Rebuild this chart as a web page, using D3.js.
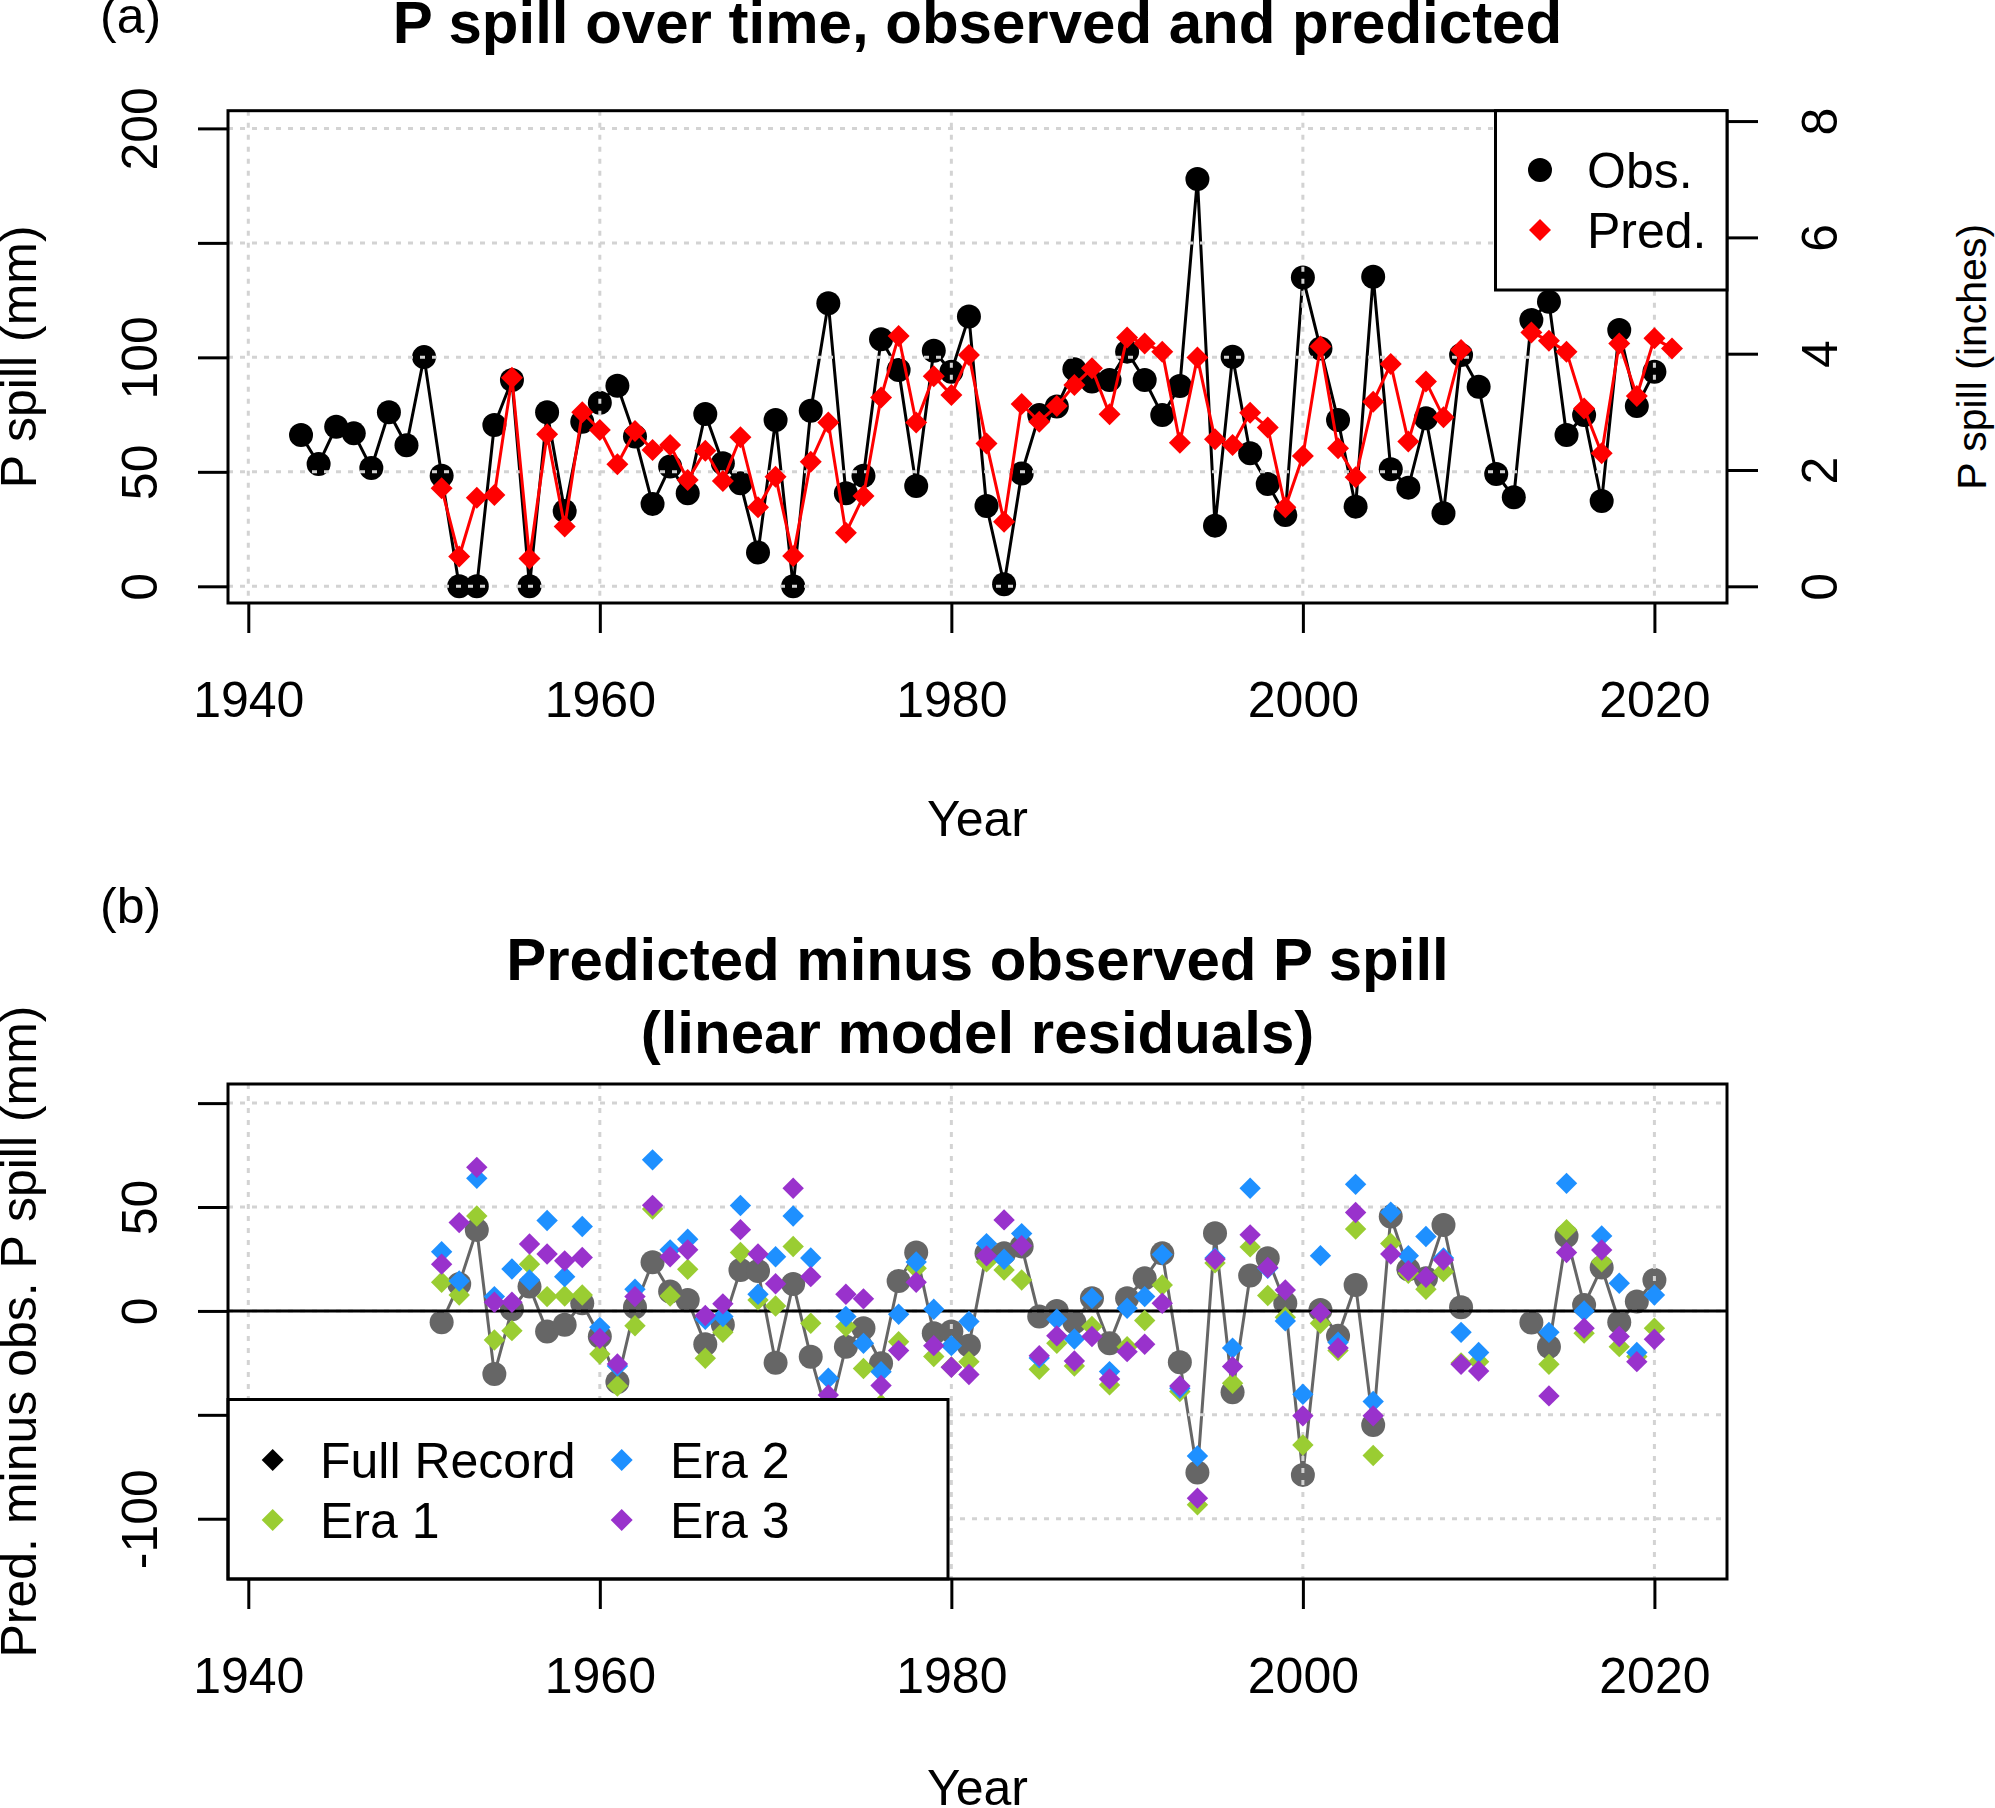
<!DOCTYPE html>
<html lang="en">
<head>
<meta charset="UTF-8">
<title>P spill over time, observed and predicted</title>
<script src="https://d3js.org/d3.v7.min.js"></script>
<style>
  body { margin: 0; background: #fff; }
  svg { display: block; font-family: "Liberation Sans", Arial, sans-serif; }
  .grid line { stroke: #d3d3d3; stroke-width: 3; stroke-dasharray: 5,7; }
  .axis text { font-family: "Liberation Sans", Arial, sans-serif; font-size: 50px; fill: #000; }
  .axis line { stroke: #000; stroke-width: 3; }
  .lbl { font-size: 50px; fill: #000; }
  .title { font-size: 60px; font-weight: bold; fill: #000; }
</style>
</head>
<body>
<div id="chart"></div>
<script>
// years 1943-2021
const years = [1943, 1944, 1945, 1946, 1947, 1948, 1949, 1950, 1951, 1952,
  1953, 1954, 1955, 1956, 1957, 1958, 1959, 1960, 1961, 1962,
  1963, 1964, 1965, 1966, 1967, 1968, 1969, 1970, 1971, 1972,
  1973, 1974, 1975, 1976, 1977, 1978, 1979, 1980, 1981, 1982,
  1983, 1984, 1985, 1986, 1987, 1988, 1989, 1990, 1991, 1992,
  1993, 1994, 1995, 1996, 1997, 1998, 1999, 2000, 2001, 2002,
  2003, 2004, 2005, 2006, 2007, 2008, 2009, 2010, 2011, 2012,
  2013, 2014, 2015, 2016, 2017, 2018, 2019, 2020, 2021];

// observed P spill (mm)
const obs = [66.1, 53.4, 69.7, 66.8, 51.7, 76.0, 61.6, 100.1, 48.3, 0,
  0, 70.5, 90.1, 0, 76.0, 32.9, 71.9, 80.2, 87.6, 65.4,
  36.0, 52.3, 40.6, 75.3, 53.7, 45.0, 14.8, 72.6, 0, 76.7,
  123.6, 40.6, 48.3, 107.9, 94.5, 43.8, 102.9, 93.7, 117.8, 35.1,
  0.9, 49.3, 74.8, 78.5, 94.8, 89.4, 90.1, 102.5, 90.1, 74.8,
  87.5, 177.9, 26.5, 100.3, 58.1, 44.7, 31.1, 134.9, 103.9, 72.6,
  34.8, 135.2, 51.1, 43.1, 73.4, 31.9, 101.0, 87.2, 49.1, 38.9,
  116.3, 124.3, 66.1, 74.8, 37.3, 111.9, 78.7, 93.7, null];

// predicted P spill (mm)
const pred = [null, null, null, null, null, null, null, null, 42.8, 13.0,
  38.7, 39.9, 91.1, 12.2, 66.4, 26.1, 76.0, 68.3, 53.3, 67.8,
  59.5, 61.7, 46.4, 59.2, 46.0, 65.1, 34.5, 47.9, 13.2, 54.4,
  71.5, 23.4, 39.4, 82.5, 109.3, 71.5, 91.8, 83.6, 101.0, 62.4,
  28.2, 79.6, 71.9, 78.7, 87.9, 95.2, 75.1, 108.7, 106.1, 102.5,
  62.7, 99.9, 64.2, 61.7, 75.8, 69.4, 34.5, 56.9, 104.7, 60.3,
  47.6, 80.6, 97.1, 63.2, 89.4, 73.8, 103.2, null, null, null,
  110.9, 107.3, 102.5, 77.7, 58.1, 106.1, 83.1, 108.3, 103.9];

// residual years 1951-2020
const resYears = years.slice(8, 78);

const resFull = [-5.5, 13.0, 39.0, -30.3, 0.8, 11.7, -9.9, -6.7, 3.7, -12.3,
  -34.2, 1.8, 23.4, 9.3, 5.3, -16.0, -6.7, 19.7, 19.2, -24.9,
  13.0, -22.0, -52.0, -17.2, -8.3, -25.2, 14.4, 28.1, -10.7, -9.9,
  -16.7, 27.7, 27.7, 31.0, -2.7, 0.0, -5.5, 6.1, -15.6, 6.1,
  15.7, 27.7, -24.7, -77.8, 37.4, -39.1, 17.0, 25.3, 3.7, -78.9,
  0.5, -12.0, 12.5, -54.9, 45.4, 20.0, 15.7, 41.4, 1.8, null,
  null, null, -5.6, -17.2, 36.1, 2.9, 20.9, -5.4, 4.5, 14.9];

const resEra1 = [13.8, 7.7, 45.7, -14.0, -9.5, 22.5, 6.9, 7.2, 7.7, -20.7,
  -36.1, -7.1, 49.0, 7.2, 20.0, -22.8, -10.3, 28.1, 5.3, 2.4,
  31.0, -5.9, -55.0, -7.5, -27.7, -45.0, -14.8, 20.5, -21.9, -27.0,
  -24.4, 23.6, 19.7, 14.9, -28.1, -15.6, -26.5, -7.5, -35.6, -17.2,
  -4.6, 12.5, -38.8, -93.3, 23.1, -34.8, 30.8, 7.4, -3.0, -64.5,
  -5.9, -19.1, 39.4, -69.6, 32.5, 18.1, 10.4, 18.9, -25.0, -24.4,
  null, null, null, -25.7, 39.1, -10.7, 23.7, -17.2, -21.9, -8.3];

const resEra2 = [28.5, 14.4, 63.8, 6.9, 20.2, 14.9, 43.5, 16.5, 40.6, -7.9,
  -26.5, 10.4, 72.7, 29.4, 34.5, -4.0, -2.7, 50.7, 8.0, 26.1,
  45.7, 25.5, -32.4, -2.7, -15.6, -29.3, -1.6, 23.6, 0.8, -16.7,
  -5.1, 32.4, 24.9, 37.2, -22.6, -4.0, -13.5, 6.1, -29.2, 1.3,
  6.9, 27.1, -37.2, -69.8, 25.5, -17.9, 59.0, 20.5, -4.8, -40.1,
  26.6, -15.1, 60.9, -43.6, 47.5, 26.6, 35.8, 25.5, -10.3, -20.0,
  null, null, null, -10.3, 61.4, 0.0, 36.1, 13.3, -20.0, 7.7];

const resEra3 = [22.5, 42.5, 69.1, 4.2, 4.2, 32.2, 27.4, 24.1, 25.7, -13.2,
  -25.5, 6.9, 50.8, 26.1, 29.4, -2.2, 3.4, 39.1, 27.4, 13.1,
  59.0, 16.5, -40.4, 8.0, 5.8, -35.9, -19.1, 13.8, -16.7, -27.1,
  -30.6, 26.5, 43.8, 31.4, -21.6, -12.0, -24.1, -12.3, -32.7, -19.6,
  -16.0, 3.7, -36.1, -90.1, 24.9, -26.8, 36.6, 20.9, 10.1, -50.5,
  -0.8, -17.8, 47.4, -50.5, 27.4, 19.4, 16.2, 24.5, -25.7, -28.9,
  null, null, null, -40.9, 28.1, -8.3, 29.3, -12.3, -24.4, -13.6];

const xTicks = [1940, 1960, 1980, 2000, 2020];
const topTicks = [0, 50, 100, 150, 200];
const topLabels = [0, 50, 100, 200];
const inchTicks = [0, 2, 4, 6, 8];
const botTicks = [-100, -50, 0, 50, 100];
const botLabels = [-100, 0, 50];

const eraColors = {era1: "#9acd32", era2: "#1e90ff", era3: "#9932cc"};

const W = 1995, H = 1808;
const L = 228, R = 1727;
const tTop = 110.7, tBot = 603;
const bTop = 1084, bBot = 1579;

const svg = d3.select("#chart").append("svg")
  .attr("width", W).attr("height", H);
svg.append("rect").attr("width", W).attr("height", H).attr("fill", "#fff");

const x = d3.scaleLinear().domain([1938.845, 2024.13]).range([L, R]);
const yTop = d3.scaleLinear().domain([-7.29, 207.73]).range([tBot, tTop]);
const yInch = d3.scaleLinear().domain([-7.29 / 25.4, 207.73 / 25.4]).range([tBot, tTop]);
const yBot = d3.scaleLinear().domain([-129.0, 109.2]).range([bBot, bTop]);

const topData = years.map((yr, i) => ({yr, o: obs[i], p: pred[i]}));
const resData = resYears.map((yr, i) => ({yr, f: resFull[i], e1: resEra1[i], e2: resEra2[i], e3: resEra3[i]}));

function diamond(half) {
  const s = half * Math.SQRT2;
  return d3.symbol().type(d3.symbolSquare).size(s * s)();
}

function grid(yScale, yTicks, top, bot) {
  const g = svg.append("g").attr("class", "grid");
  g.selectAll(".v").data(xTicks).join("line")
    .attr("x1", d => x(d)).attr("x2", d => x(d)).attr("y1", top).attr("y2", bot);
  g.selectAll(".h").data(yTicks).join("line")
    .attr("x1", L).attr("x2", R).attr("y1", d => yScale(d)).attr("y2", d => yScale(d));
}

function leftAxis(yScale, ticks, labels) {
  const a = svg.append("g").attr("class", "axis").attr("transform", `translate(${L},0)`)
    .call(d3.axisLeft(yScale).tickValues(ticks).tickSize(30).tickSizeOuter(0));
  a.select(".domain").remove();
  a.selectAll(".tick text")
    .text(d => labels.includes(d) ? String(d) : "")
    .attr("transform", "rotate(-90)").attr("x", 0).attr("y", -71)
    .attr("dy", null).attr("text-anchor", "middle");
}

function bottomAxis(yPos) {
  const a = svg.append("g").attr("class", "axis").attr("transform", `translate(0,${yPos})`)
    .call(d3.axisBottom(x).tickValues(xTicks).tickSize(30).tickSizeOuter(0).tickFormat(d3.format("d")));
  a.select(".domain").remove();
  a.selectAll(".tick text").attr("y", 114).attr("dy", null);
}

function box(top, bot) {
  svg.append("rect").attr("x", L).attr("y", top).attr("width", R - L).attr("height", bot - top)
    .attr("fill", "none").attr("stroke", "#000").attr("stroke-width", 3);
}

function rotLabel(text, cx, cy, size) {
  svg.append("text").attr("class", "lbl")
    .attr("transform", `translate(${cx},${cy}) rotate(-90)`)
    .style("font-size", size ? size + "px" : null)
    .attr("text-anchor", "middle").text(text);
}

// ---------- panel (a) ----------
const lineObs = d3.line().defined(d => d.o != null).x(d => x(d.yr)).y(d => yTop(d.o));
const linePred = d3.line().defined(d => d.p != null).x(d => x(d.yr)).y(d => yTop(d.p));

svg.append("path").datum(topData).attr("d", lineObs)
  .attr("fill", "none").attr("stroke", "#000").attr("stroke-width", 3);
svg.append("g").selectAll("circle").data(topData.filter(d => d.o != null)).join("circle")
  .attr("cx", d => x(d.yr)).attr("cy", d => yTop(d.o)).attr("r", 12).attr("fill", "#000");

grid(yTop, topTicks, tTop, tBot);

svg.append("path").datum(topData).attr("d", linePred)
  .attr("fill", "none").attr("stroke", "#ff0000").attr("stroke-width", 3);
svg.append("g").selectAll("path").data(topData.filter(d => d.p != null)).join("path")
  .attr("d", diamond(11))
  .attr("transform", d => `translate(${x(d.yr)},${yTop(d.p)}) rotate(45)`)
  .attr("fill", "#ff0000");

box(tTop, tBot);
leftAxis(yTop, topTicks, topLabels);
bottomAxis(tBot);

const ra = svg.append("g").attr("class", "axis").attr("transform", `translate(${R},0)`)
  .call(d3.axisRight(yInch).tickValues(inchTicks).tickSize(31).tickSizeOuter(0));
ra.select(".domain").remove();
ra.selectAll(".tick text")
  .attr("transform", "rotate(-90)").attr("x", 0).attr("y", 110)
  .attr("dy", null).attr("text-anchor", "middle");

rotLabel("P spill (mm)", 36, (tTop + tBot) / 2);
rotLabel("P spill (inches)", 1986, (tTop + tBot) / 2, 41);
svg.append("text").attr("class", "lbl").attr("x", (L + R) / 2).attr("y", 836)
  .attr("text-anchor", "middle").text("Year");
svg.append("text").attr("class", "lbl").attr("x", 100).attr("y", 33).text("(a)");
svg.append("text").attr("class", "title").attr("x", (L + R) / 2).attr("y", 43)
  .attr("text-anchor", "middle").text("P spill over time, observed and predicted");

// legend (a)
const lgA = svg.append("g");
lgA.append("rect").attr("x", 1495.5).attr("y", tTop).attr("width", R - 1495.5).attr("height", 290 - tTop)
  .attr("fill", "#fff").attr("stroke", "#000").attr("stroke-width", 3);
lgA.append("circle").attr("cx", 1540).attr("cy", 170).attr("r", 12).attr("fill", "#000");
lgA.append("path").attr("d", diamond(11)).attr("transform", "translate(1540,230) rotate(45)").attr("fill", "#ff0000");
lgA.append("text").attr("class", "lbl").attr("x", 1587).attr("y", 188).text("Obs.");
lgA.append("text").attr("class", "lbl").attr("x", 1587).attr("y", 248).text("Pred.");

// ---------- panel (b) ----------
const lineFull = d3.line().defined(d => d.f != null).x(d => x(d.yr)).y(d => yBot(d.f));
svg.append("path").datum(resData).attr("d", lineFull)
  .attr("fill", "none").attr("stroke", "#666666").attr("stroke-width", 3);
svg.append("g").selectAll("circle").data(resData.filter(d => d.f != null)).join("circle")
  .attr("cx", d => x(d.yr)).attr("cy", d => yBot(d.f)).attr("r", 12).attr("fill", "#666666");

grid(yBot, botTicks, bTop, bBot);

svg.append("line").attr("x1", L).attr("x2", R).attr("y1", yBot(0)).attr("y2", yBot(0))
  .attr("stroke", "#000").attr("stroke-width", 3);

[["e1", eraColors.era1], ["e2", eraColors.era2], ["e3", eraColors.era3]].forEach(([k, c]) => {
  svg.append("g").selectAll("path").data(resData.filter(d => d[k] != null)).join("path")
    .attr("d", diamond(10.7))
    .attr("transform", d => `translate(${x(d.yr)},${yBot(d[k])}) rotate(45)`)
    .attr("fill", c);
});

// legend (b)
const lgB = svg.append("g");
lgB.append("rect").attr("x", L).attr("y", 1399.5).attr("width", 948 - L).attr("height", bBot - 1399.5)
  .attr("fill", "#fff").attr("stroke", "#000").attr("stroke-width", 3);
const legB = [
  {t: "Full Record", c: "#000", lx: 272.7, tx: 320, y: 1460},
  {t: "Era 1", c: eraColors.era1, lx: 272.7, tx: 320, y: 1520},
  {t: "Era 2", c: eraColors.era2, lx: 621.7, tx: 670, y: 1460},
  {t: "Era 3", c: eraColors.era3, lx: 621.7, tx: 670, y: 1520}
];
legB.forEach(e => {
  lgB.append("path").attr("d", diamond(11)).attr("transform", `translate(${e.lx},${e.y}) rotate(45)`).attr("fill", e.c);
  lgB.append("text").attr("class", "lbl").attr("x", e.tx).attr("y", e.y + 18).text(e.t);
});

box(bTop, bBot);
leftAxis(yBot, botTicks, botLabels);
bottomAxis(bBot);

rotLabel("Pred. minus obs. P spill (mm)", 36, (bTop + bBot) / 2);
svg.append("text").attr("class", "lbl").attr("x", (L + R) / 2).attr("y", bBot + 226)
  .attr("text-anchor", "middle").text("Year");
svg.append("text").attr("class", "lbl").attr("x", 100).attr("y", 923).text("(b)");
svg.append("text").attr("class", "title").attr("x", (L + R) / 2).attr("y", 980)
  .attr("text-anchor", "middle").text("Predicted minus observed P spill");
svg.append("text").attr("class", "title").attr("x", (L + R) / 2).attr("y", 1053)
  .attr("text-anchor", "middle").text("(linear model residuals)");
</script>
</body>
</html>
